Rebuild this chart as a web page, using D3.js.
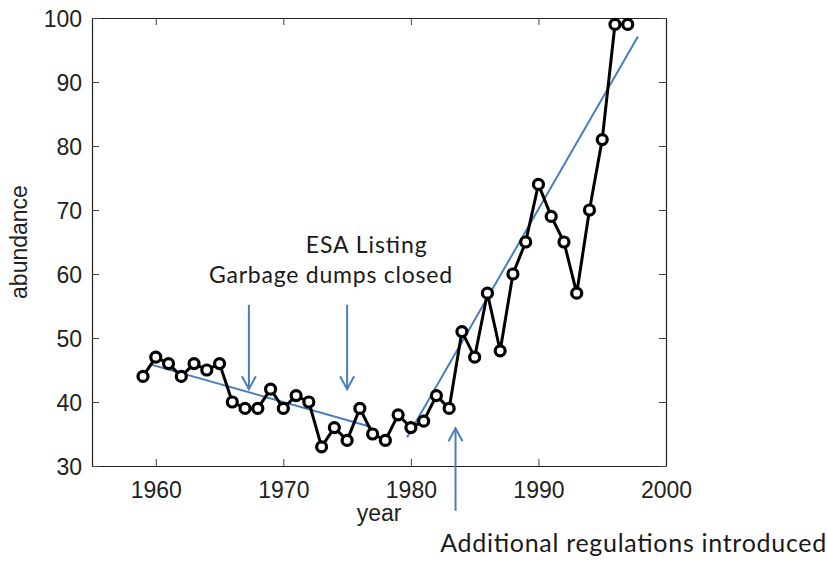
<!DOCTYPE html>
<html>
<head>
<meta charset="utf-8">
<script src="https://cdn.jsdelivr.net/npm/d3@7"></script>
<style>
  html, body { margin: 0; padding: 0; background: #fff; }
  svg { display: block; }
</style>
</head>
<body>
<svg id="chart" width="827" height="562"></svg>
<script>
// Yearly abundance counts
const years = [1959,1960,1961,1962,1963,1964,1965,1966,1967,1968,1969,1970,1971,1972,1973,1974,1975,1976,1977,1978,1979,1980,1981,1982,1983,1984,1985,1986,1987,1988,1989,1990,1991,1992,1993,1994,1995,1996,1997];
const abundance = [44,47,46,44,46,45,46,40,39,39,42,39,41,40,33,36,34,39,35,34,38,36,37,41,39,51,47,57,48,60,65,74,69,65,57,70,81,99,99];

// Fitted trend segments: [startYear, startValue, endYear, endValue]
const trendDecline = [1959.7, 45.8, 1976.9, 36.1];
const trendRecovery = [1979.7, 34.5, 1997.8, 97.1];

// Axis ticks
const xTicks = [1960, 1970, 1980, 1990, 2000];
const yTicks = [30, 40, 50, 60, 70, 80, 90, 100];

// Annotations: label, text anchor position (year, value), arrow (year, from value, to value)
const annotationLabels = ["ESA Listing", "Garbage dumps closed", "Additional regulations introduced"];
const labelYears = [1976.5, 1973.7, 1982.3];
const labelValues = [63.3, 58.6, 16.6];
const labelAnchors = ["middle", "middle", "start"];
const labelSizes = [23, 23, 25];
const labelWidths = [121, 243, 386];
const arrowYears = [1967.3, 1975.0, 1983.5];
const arrowFrom = [55.2, 55.2, 23.0];
const arrowTo = [42.0, 42.0, 35.9];

const svg = d3.select("#chart");
const plotLeft = 92, plotRight = 666, plotTop = 18, plotBottom = 466;

const x = d3.scaleLinear().domain([1955, 2000]).range([plotLeft, plotRight]);
const y = d3.scaleLinear().domain([30, 100]).range([plotBottom, plotTop]);

const blue = "#4a7ebb";
const tickLen = 7;

// Axis box with inward ticks on all four sides
const axisFont = "'Liberation Sans', Arial, sans-serif";

const gx = svg.append("g").attr("transform", `translate(0,${plotBottom})`)
  .call(d3.axisBottom(x).tickValues(xTicks).tickFormat(d3.format("d")).tickSizeInner(-tickLen).tickSizeOuter(0).tickPadding(10));
const gxTop = svg.append("g").attr("transform", `translate(0,${plotTop})`)
  .call(d3.axisTop(x).tickValues(xTicks).tickFormat("").tickSizeInner(-tickLen).tickSizeOuter(0));
const gy = svg.append("g").attr("transform", `translate(${plotLeft},0)`)
  .call(d3.axisLeft(y).tickValues(yTicks).tickSizeInner(-tickLen).tickSizeOuter(0).tickPadding(10));
const gyRight = svg.append("g").attr("transform", `translate(${plotRight},0)`)
  .call(d3.axisRight(y).tickValues(yTicks).tickFormat("").tickSizeInner(-tickLen).tickSizeOuter(0));

[gx, gxTop, gy, gyRight].forEach(g => {
  g.select(".domain").attr("stroke", "#222").attr("stroke-width", 1.2);
  g.selectAll(".tick line").attr("stroke", "#444").attr("stroke-width", 1);
  g.selectAll(".tick text").attr("fill", "#222").style("font-family", axisFont).style("font-size", "23px");
});
gx.selectAll(".tick text").attr("dy", "0.95em");
gy.selectAll(".tick text").attr("dy", "0.36em");

// Axis titles
svg.append("text")
  .attr("x", (plotLeft + plotRight) / 2).attr("y", 521)
  .attr("text-anchor", "middle")
  .style("font-family", axisFont).style("font-size", "23px").attr("fill", "#222")
  .text("year");
svg.append("text")
  .attr("transform", `translate(27,${(plotTop + plotBottom) / 2}) rotate(-90)`)
  .attr("text-anchor", "middle")
  .style("font-family", axisFont).style("font-size", "23px").attr("fill", "#222")
  .text("abundance");

// Trend lines
[trendDecline, trendRecovery].forEach(t => {
  svg.append("line")
    .attr("x1", x(t[0])).attr("y1", y(t[1]))
    .attr("x2", x(t[2])).attr("y2", y(t[3]))
    .attr("stroke", blue).attr("stroke-width", 2);
});

// Abundance series
const pts = years.map((yr, i) => [yr, abundance[i]]);
svg.append("path")
  .datum(pts)
  .attr("fill", "none").attr("stroke", "#000").attr("stroke-width", 3).attr("stroke-linejoin", "round")
  .attr("d", d3.line().x(d => x(d[0])).y(d => y(d[1])));
svg.append("g").selectAll("circle")
  .data(pts).join("circle")
  .attr("cx", d => x(d[0])).attr("cy", d => y(d[1])).attr("r", 5)
  .attr("fill", "#fff").attr("stroke", "#000").attr("stroke-width", 3.2);

// Annotation arrows
arrowYears.forEach((yr, i) => {
  const ax = x(yr), y0 = y(arrowFrom[i]), y1 = y(arrowTo[i]);
  const dir = y1 > y0 ? 1 : -1;
  const g = svg.append("g").attr("stroke", blue).attr("stroke-width", 2).attr("fill", "none");
  g.append("line").attr("x1", ax).attr("y1", y0).attr("x2", ax).attr("y2", y1);
  g.append("path")
    .attr("d", `M${ax - 7},${y1 - dir * 13}L${ax},${y1}L${ax + 7},${y1 - dir * 13}`);
});

// Annotation labels
annotationLabels.forEach((label, i) => {
  svg.append("text")
    .attr("x", x(labelYears[i])).attr("y", y(labelValues[i]))
    .attr("text-anchor", labelAnchors[i])
    .attr("textLength", labelWidths[i])
    .attr("lengthAdjust", "spacing")
    .style("font-family", "Lato, 'Open Sans', sans-serif")
    .style("font-size", labelSizes[i] + "px")
    .attr("fill", "#1a1a1a")
    .text(label);
});
</script>
</body>
</html>
